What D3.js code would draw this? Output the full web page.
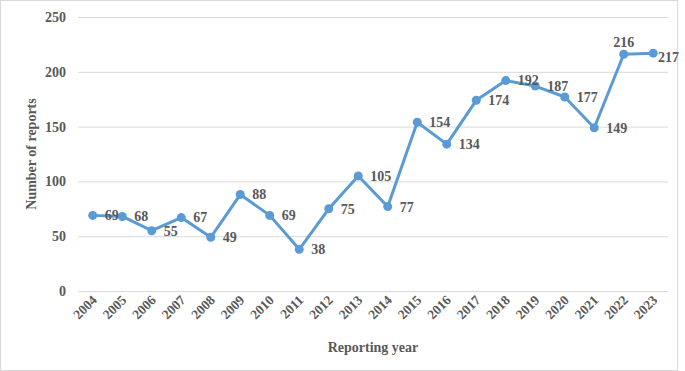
<!DOCTYPE html>
<html lang="en">
<head>
<meta charset="utf-8">
<title>Number of reports</title>
<script src="https://cdn.jsdelivr.net/npm/d3@7"></script>
<style>
  body { margin: 0; background: #fff; }
  text { font-family: "Liberation Serif", "Times New Roman", serif; font-weight: bold; fill: #595959; }
</style>
</head>
<body>
<script>
// data
var years = ["2004","2005","2006","2007","2008","2009","2010","2011","2012","2013",
             "2014","2015","2016","2017","2018","2019","2020","2021","2022","2023"];
var reports = [69, 68, 55, 67, 49, 88, 69, 38, 75, 105,
               77, 154, 134, 174, 192, 187, 177, 149, 216, 217];
var yTicks = [0, 50, 100, 150, 200, 250];
var labelAbove = ["2022"]; // Excel put this one label over its point

var w = 685, h = 371;
var plotLeft = 78, plotRight = 668, plotTop = 17, plotBottom = 291;

var svg = d3.select("body").append("svg")
  .attr("width", w)
  .attr("height", h);

// outer frame
svg.append("rect")
  .attr("x", 0.5).attr("y", 0.5)
  .attr("width", 677).attr("height", 370)
  .attr("fill", "none")
  .attr("stroke", "#d9d9d9");

var x = d3.scaleBand().domain(years).range([plotLeft, plotRight]);
var y = d3.scaleLinear().domain([0, 250]).range([plotBottom, plotTop]);
var cx = function(d) { return x(d) + x.bandwidth() / 2; };

// gridlines
svg.selectAll("line.grid")
  .data(yTicks)
  .enter()
  .append("line")
  .attr("class", "grid")
  .attr("x1", plotLeft).attr("x2", plotRight)
  .attr("y1", function(d) { return y(d) + 0.5; })
  .attr("y2", function(d) { return y(d) + 0.5; })
  .attr("stroke", "#d9d9d9")
  .attr("stroke-width", 1);

// y tick labels
svg.selectAll("text.ytick")
  .data(yTicks)
  .enter()
  .append("text")
  .attr("class", "ytick")
  .attr("x", 66)
  .attr("y", function(d) { return y(d); })
  .attr("dy", "0.35em")
  .attr("text-anchor", "end")
  .attr("font-size", "14px")
  .text(function(d) { return d; });

// x tick labels
svg.selectAll("text.xtick")
  .data(years)
  .enter()
  .append("text")
  .attr("class", "xtick")
  .attr("transform", function(d) { return "translate(" + (cx(d) + 5) + "," + 301 + ") rotate(-45)"; })
  .attr("text-anchor", "end")
  .attr("font-size", "13.5px")
  .text(function(d) { return d; });

// axis titles
svg.append("text")
  .attr("transform", "translate(36," + ((plotTop + plotBottom) / 2) + ") rotate(-90)")
  .attr("text-anchor", "middle")
  .attr("font-size", "14px")
  .text("Number of reports");

svg.append("text")
  .attr("x", (plotLeft + plotRight) / 2)
  .attr("y", 352)
  .attr("text-anchor", "middle")
  .attr("font-size", "14px")
  .text("Reporting year");

// line
var line = d3.line()
  .x(function(d, i) { return cx(years[i]); })
  .y(function(d) { return y(d); });

svg.append("path")
  .datum(reports)
  .attr("d", line)
  .attr("fill", "none")
  .attr("stroke", "#5b9bd5")
  .attr("stroke-width", 3)
  .attr("stroke-linejoin", "round");

svg.selectAll("circle")
  .data(reports)
  .enter()
  .append("circle")
  .attr("cx", function(d, i) { return cx(years[i]); })
  .attr("cy", function(d) { return y(d); })
  .attr("r", 4.5)
  .attr("fill", "#5b9bd5");

// data labels
svg.selectAll("text.lbl")
  .data(reports)
  .enter()
  .append("text")
  .attr("class", "lbl")
  .attr("x", function(d, i) {
    if (labelAbove.indexOf(years[i]) >= 0) return cx(years[i]);
    return Math.min(cx(years[i]) + 12, 658);
  })
  .attr("y", function(d, i) {
    if (labelAbove.indexOf(years[i]) >= 0) return y(d) - 12;
    return y(d) + (i === years.length - 1 ? 4 : 0);
  })
  .attr("dy", "0.35em")
  .attr("text-anchor", function(d, i) { return labelAbove.indexOf(years[i]) >= 0 ? "middle" : "start"; })
  .attr("font-size", "14px")
  .text(function(d) { return d; });
</script>
</body>
</html>
